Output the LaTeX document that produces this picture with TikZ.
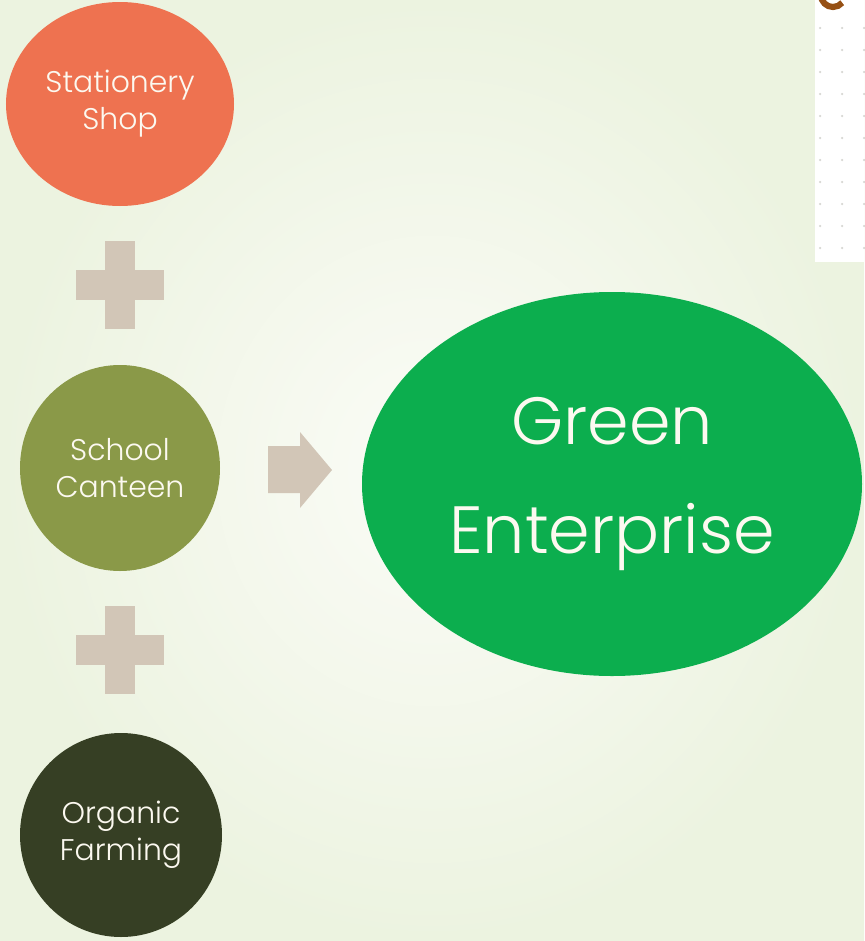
\documentclass[tikz,border=0pt]{standalone}
\usepackage{fontspec}
\setmainfont{Poppins}[UprightFont={* Light}]
\usetikzlibrary{shapes.geometric}

\definecolor{bgin}{RGB}{251,252,247}
\definecolor{bgout}{RGB}{236,243,224}
\definecolor{shopred}{RGB}{238,114,80}
\definecolor{canteenolive}{RGB}{138,153,72}
\definecolor{farmdark}{RGB}{54,63,36}
\definecolor{enterprisegreen}{RGB}{12,174,78}
\definecolor{signbeige}{RGB}{210,198,183}
\definecolor{labelwhite}{RGB}{252,249,240}
\definecolor{dotgray}{RGB}{215,215,210}
\definecolor{glyphbrown}{RGB}{150,80,20}

\begin{document}
\begin{tikzpicture}[
        blob/.style={ellipse, inner sep=0pt, align=center, text=labelwhite, font=\fontsize{17}{21}\selectfont},
        bigblob/.style={ellipse, inner sep=0pt, align=center, text=labelwhite, font=\fontsize{38}{62}\selectfont},
        sign/.style={fill=signbeige}
    ]
    \useasboundingbox (0,0) rectangle (17.28,-18.82);
    \shade[inner color=bgin, outer color=bgout] (0,0) rectangle (17.28,-18.82);

    \fill[white] (16.30,0) rectangle (17.28,-5.24);
    \foreach \i in {0,...,10} {
        \foreach \j in {0,1,2} {
            \fill[dotgray] (16.40+0.44*\j,-0.56-0.44*\i) circle (0.025);
        }
    }
    \draw[glyphbrown, line width=3.5pt] (16.42,0.10) arc (180:320:0.24);

    \node[blob, fill=shopred, minimum width=4.56cm, minimum height=4.08cm] (shop) at (2.40,-2.08) {Stationery\\Shop};
    \node[blob, fill=canteenolive, minimum width=4.00cm, minimum height=4.12cm] (canteen) at (2.40,-9.36) {School\\Canteen};
    \node[blob, fill=farmdark, minimum width=4.04cm, minimum height=4.08cm] (farm) at (2.42,-16.70) {Organic\\Farming};
    \node[bigblob, fill=enterprisegreen, minimum width=10.00cm, minimum height=7.68cm] (enterprise) at (12.24,-9.68) {Green\\Enterprise};

    \fill[sign] (2.10,-4.82) rectangle (2.70,-6.58);
    \fill[sign] (1.52,-5.40) rectangle (3.28,-6.00);
    \fill[sign] (2.10,-12.12) rectangle (2.70,-13.88);
    \fill[sign] (1.52,-12.70) rectangle (3.28,-13.30);

    \fill[sign] (5.36,-8.92) -- (6.00,-8.92) -- (6.00,-8.64) -- (6.64,-9.40)
        -- (6.00,-10.16) -- (6.00,-9.86) -- (5.36,-9.86) -- cycle;
\end{tikzpicture}
\end{document}
